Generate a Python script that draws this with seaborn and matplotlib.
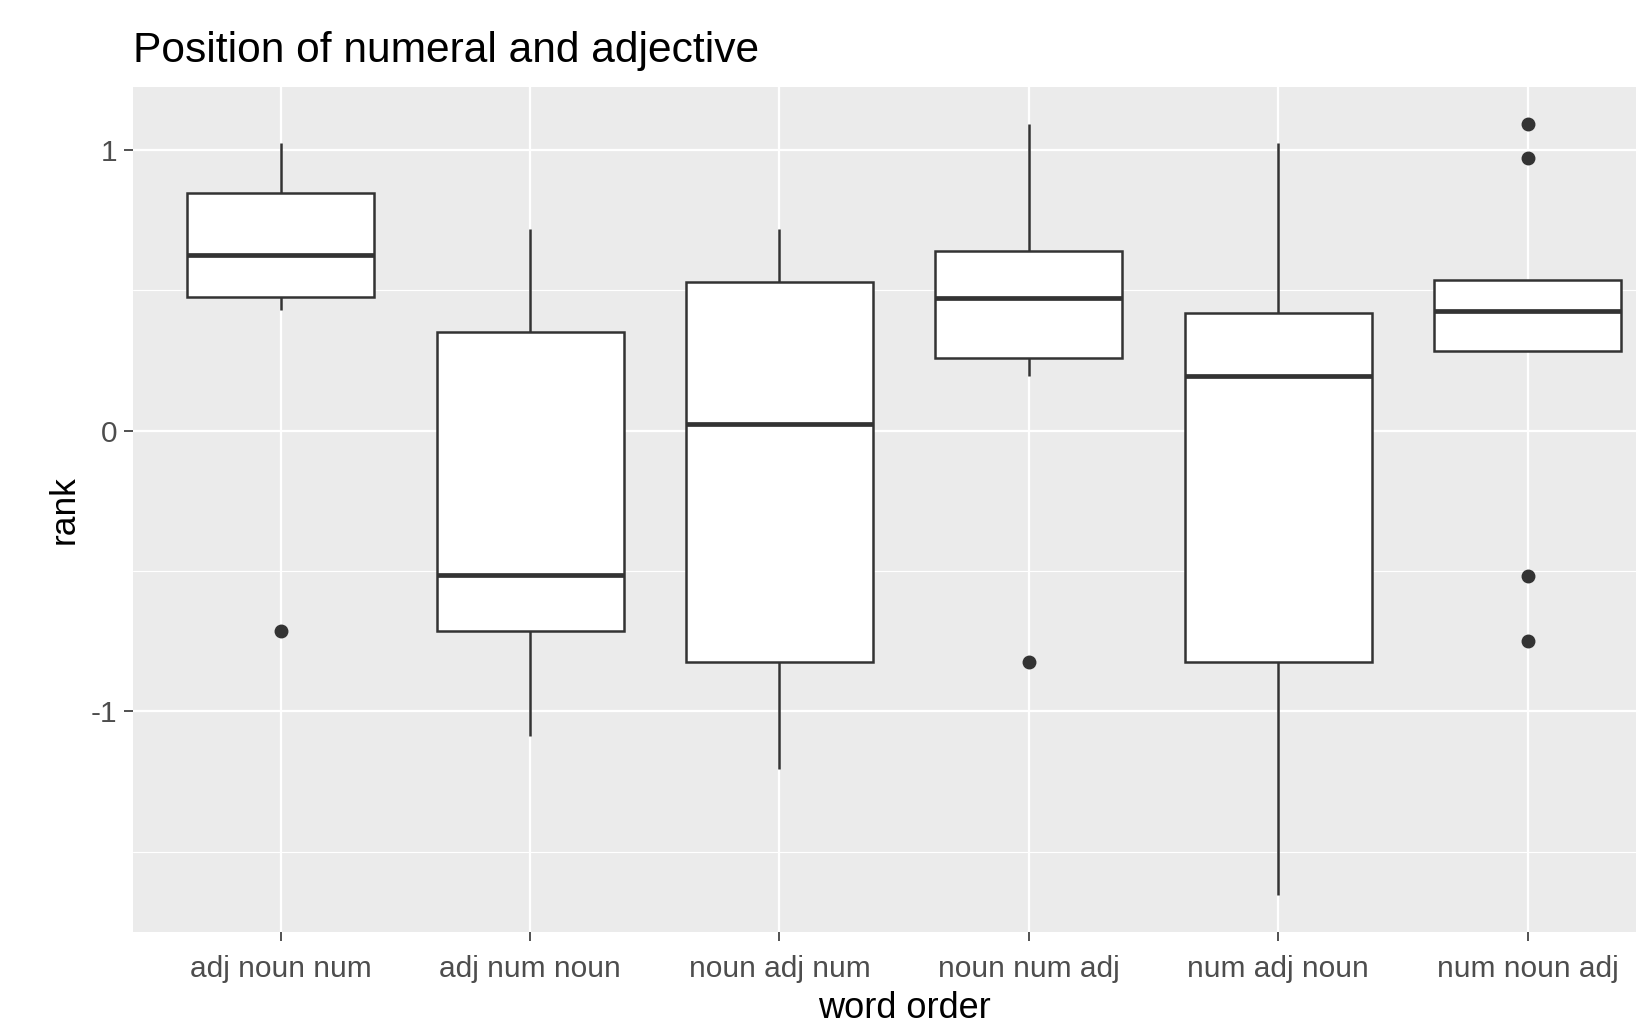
import numpy as np
import pandas as pd
import matplotlib
matplotlib.use("Agg")
import matplotlib.pyplot as plt
import seaborn as sns

# ---- data ----
categories = ["adj noun num", "adj num noun", "noun adj num",
              "noun num adj", "num adj noun", "num noun adj"]
adj_noun_num = [-0.715, 0.428, 0.477, 0.55, 0.626, 0.72, 0.845, 0.93, 1.024]
adj_num_noun = [-1.088, -0.9, -0.715, -0.6, -0.514, -0.1, 0.350, 0.5, 0.719]
noun_adj_num = [-1.207, -1.0, -0.823, -0.4, 0.022, 0.3, 0.529, 0.62, 0.719]
noun_num_adj = [-0.823, 0.194, 0.257, 0.35, 0.473, 0.55, 0.641, 0.85, 1.091]
num_adj_noun = [-1.654, -1.2, -0.823, -0.3, 0.194, 0.3, 0.417, 0.7, 1.024]
num_noun_adj = [-0.749, -0.518, 0.283, 0.35, 0.425, 0.5, 0.536, 0.972, 1.091]
series = [adj_noun_num, adj_num_noun, noun_adj_num,
          noun_num_adj, num_adj_noun, num_noun_adj]
y_ticks = [-1, 0, 1]
y_minor = [-1.5, -0.5, 0.5]

df = pd.DataFrame({
    "word order": np.repeat(categories, [len(s) for s in series]),
    "rank": np.concatenate(series),
})

sns.set_theme(style="darkgrid")
plt.rcParams["font.family"] = ["Liberation Sans", "DejaVu Sans"]

W, H = 1636, 1023
fig = plt.figure(figsize=(W / 100, H / 100), dpi=100)
ax = fig.add_axes([133 / W, 1 - 932 / H, (W - 133) / W, (932 - 87) / H])
ax.set_facecolor("#EBEBEB")

sns.boxplot(data=df, x="word order", y="rank", order=categories, ax=ax,
            color="white", saturation=1, linecolor="#333333", linewidth=1.8,
            width=0.75, whis=1.5, fliersize=9, showcaps=False,
            flierprops=dict(marker="o", markerfacecolor="#333333",
                            markeredgecolor="#333333"),
            medianprops=dict(linewidth=3.4, color="#333333"))

ax.set_xlim(-0.592, 5.434)
ax.set_ylim(-1.7863, 1.2236)
ax.set_yticks(y_ticks)
ax.set_yticklabels([str(t) for t in y_ticks])
ax.set_yticks(y_minor, minor=True)

ax.set_axisbelow(True)
ax.grid(False)
ax.grid(True, which="major", axis="both", color="white", linewidth=1.6)
ax.grid(True, which="minor", axis="y", color="white", linewidth=0.8)
for s in ax.spines.values():
    s.set_visible(False)

ax.tick_params(axis="both", which="major", length=6.5, width=1.2,
               color="#333333", labelcolor="#4D4D4D", labelsize=21.5,
               direction="out")
ax.tick_params(axis="x", which="major", pad=10, bottom=True)
ax.tick_params(axis="y", which="major", pad=5, left=True)
ax.tick_params(axis="y", which="minor", length=0)

ax.set_xlabel("word order", fontsize=26, color="black")
ax.xaxis.set_label_coords(0.513, -0.091)
ax.xaxis.label.set_va("center")
ax.set_ylabel("rank", fontsize=25.5, color="black", labelpad=7)

fig.text(133 / W, 1 - 62 / H, "Position of numeral and adjective",
         fontsize=30.6, color="black", ha="left", va="baseline")

fig.savefig("out.png", dpi=100)
